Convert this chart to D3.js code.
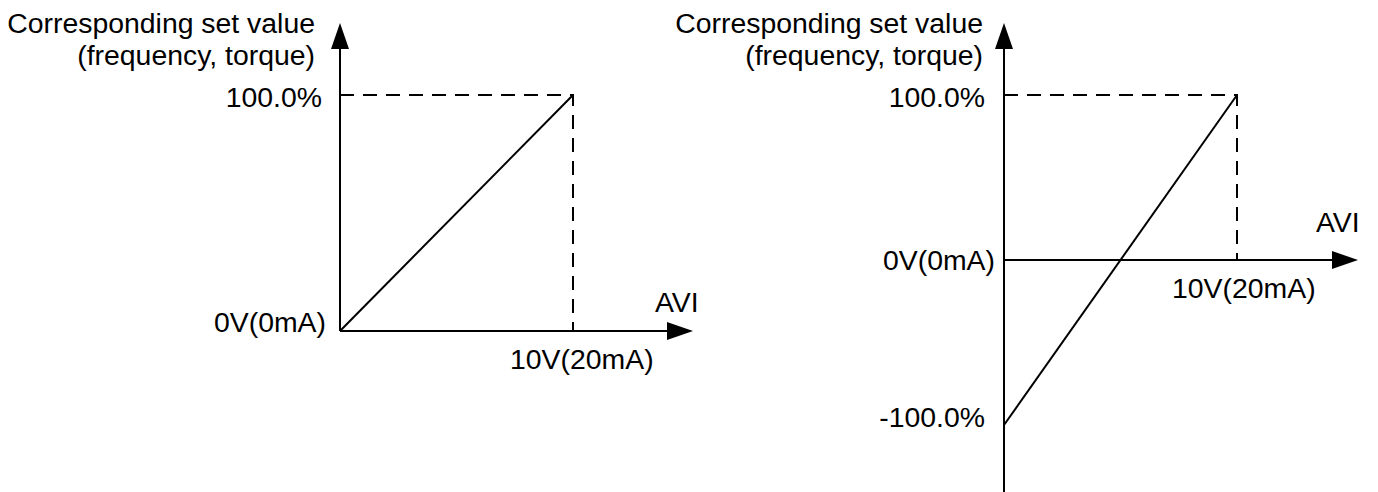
<!DOCTYPE html>
<html>
<head>
<meta charset="utf-8">
<script src="https://cdn.jsdelivr.net/npm/d3@7"></script>
<style>
  html, body { margin: 0; padding: 0; background: #fff; }
  svg text { font-family: "Liberation Sans", Arial, sans-serif; font-size: 28.4px; fill: #000; }
</style>
</head>
<body>
<div id="charts"></div>
<script>
/* values */
var voltRange = [0, 10]               // AVI input, volts (0V..10V / 0mA..20mA)
var leftPctRange = [0, 100]           // set value %, unipolar
var rightPctRange = [-100, 100]       // set value %, bipolar
var leftCurve = [[0, 0], [10, 100]]   // [volts, percent]
var rightCurve = [[0, -100], [10, 100]]
var titleLines = ["Corresponding set value", "(frequency, torque)"]
var maxLabel = "100.0%"
var minLabel = "-100.0%"
var originLabel = "0V(0mA)"
var fullScaleLabel = "10V(20mA)"
var axisName = "AVI"

var W = 1378, H = 492

var svg = d3.select("#charts").append("svg")
  .attr("width", W)
  .attr("height", H)

/* layout per panel, pixels */
var leftLayout = {
  xRange: [340, 573], yRange: [331, 95],
  yTop: 23, yBottom: null, xEnd: 693,
  titleDx: -25, maxDx: -18, originDx: -14, originDy: 1,
  aviDx: -38, aviDy: -19, fullDx: -63, fullDy: 38
}
var rightLayout = {
  xRange: [1004, 1237], yRange: [425, 95],
  yTop: 23, yBottom: 492, xEnd: 1358,
  titleDx: -21, maxDx: -19, originDx: -9, originDy: 10,
  aviDx: -42, aviDy: -28, fullDx: -65, fullDy: 38
}

var arrow = { len: 26, half: 9 }

function drawPanel(layout, pctRange, curve) {
  var x = d3.scaleLinear().domain(voltRange).range(layout.xRange)
  var y = d3.scaleLinear().domain(pctRange).range(layout.yRange)
  var x0 = x(0), y0 = y(0)
  var g = svg.append("g")

  // dashed guides to the 10V / 100% corner
  g.append("path")
    .attr("d", "M" + x0 + "," + y(100) + "H" + x(voltRange[1]) + "V" + y0)
    .attr("fill", "none")
    .attr("stroke", "#000")
    .attr("stroke-width", 2)
    .attr("stroke-dasharray", "14,9")

  // axes
  var yLow = layout.yBottom === null ? y0 : layout.yBottom
  g.append("line")
    .attr("x1", x0).attr("x2", x0)
    .attr("y1", yLow).attr("y2", layout.yTop + arrow.len - 1)
    .attr("stroke", "#000").attr("stroke-width", 2)
  g.append("line")
    .attr("x1", x0).attr("x2", layout.xEnd - arrow.len + 1)
    .attr("y1", y0).attr("y2", y0)
    .attr("stroke", "#000").attr("stroke-width", 2)

  // arrow heads
  g.append("path")
    .attr("d", "M" + x0 + "," + layout.yTop +
      "L" + (x0 + arrow.half) + "," + (layout.yTop + arrow.len) +
      "L" + (x0 - arrow.half) + "," + (layout.yTop + arrow.len) + "Z")
    .attr("fill", "#000")
  g.append("path")
    .attr("d", "M" + layout.xEnd + "," + y0 +
      "L" + (layout.xEnd - arrow.len) + "," + (y0 - arrow.half) +
      "L" + (layout.xEnd - arrow.len) + "," + (y0 + arrow.half) + "Z")
    .attr("fill", "#000")

  // characteristic line
  var line = d3.line()
    .x(function(d) { return x(d[0]) })
    .y(function(d) { return y(d[1]) })
  g.append("path")
    .datum(curve)
    .attr("d", line)
    .attr("fill", "none")
    .attr("stroke", "#000")
    .attr("stroke-width", 2)

  // labels
  g.selectAll(".title").data(titleLines).enter()
    .append("text")
    .attr("class", "title")
    .attr("text-anchor", "end")
    .attr("x", x0 + layout.titleDx)
    .attr("y", function(d, i) { return 33 + i * 32 })
    .text(function(d) { return d })

  g.append("text")
    .attr("text-anchor", "end")
    .attr("x", x0 + layout.maxDx)
    .attr("y", y(100) + 12)
    .text(maxLabel)

  if (pctRange[0] < 0) {
    g.append("text")
      .attr("text-anchor", "end")
      .attr("x", x0 + layout.maxDx)
      .attr("y", y(pctRange[0]) + 2)
      .text(minLabel)
  }

  g.append("text")
    .attr("text-anchor", "end")
    .attr("x", x0 + layout.originDx)
    .attr("y", y0 + layout.originDy)
    .text(originLabel)

  g.append("text")
    .attr("x", layout.xEnd + layout.aviDx)
    .attr("y", y0 + layout.aviDy)
    .text(axisName)

  g.append("text")
    .attr("x", x(voltRange[1]) + layout.fullDx)
    .attr("y", y0 + layout.fullDy)
    .text(fullScaleLabel)
}

drawPanel(leftLayout, leftPctRange, leftCurve)
drawPanel(rightLayout, rightPctRange, rightCurve)
</script>
</body>
</html>
